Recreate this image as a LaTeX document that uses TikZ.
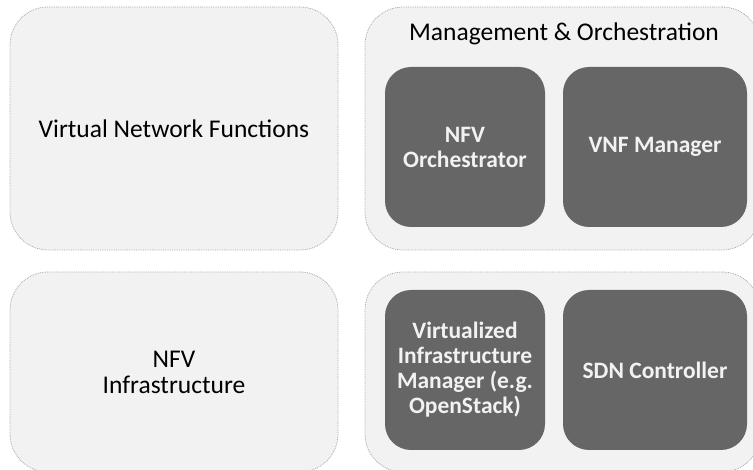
\documentclass[tikz,border=0pt]{standalone}
\usepackage{fontspec}
\setmainfont{Carlito}
\usepackage{xcolor}
\usepackage{tikz}
\definecolor{boxfill}{HTML}{F2F2F2}
\definecolor{boxline}{HTML}{A6A6A6}
\definecolor{darkfill}{HTML}{666666}
\tikzstyle{outer}=[rectangle,rounded corners=38pt,fill=boxfill,draw=boxline,densely dotted,line width=0.8pt,align=center,font=\fontsize{25.5}{26}\selectfont]
\tikzstyle{inner}=[rectangle,rounded corners=26pt,fill=darkfill,text=boxfill,align=center,font=\fontsize{23.5}{25}\selectfont\bfseries]

\begin{document}
\begin{tikzpicture}[x=1pt,y=-1pt]
        \useasboundingbox (0,0) rectangle (753,470);
        \node at (174,128.5) [outer,minimum width=328,minimum height=243] (vnf) {Virtual Network Functions};
        \node at (562.5,128.5) [outer,minimum width=395,minimum height=243] (mano) {};
        \node at (564,34) [font=\fontsize{25.5}{26}\selectfont] (manotitle) {Management \& Orchestration};
        \node at (465,147) [inner,minimum width=160,minimum height=160] (nfvo) {NFV\\Orchestrator};
        \node at (655,147) [inner,minimum width=184,minimum height=160] (vnfm) {VNF Manager};
        \node at (174,372) [outer,minimum width=328,minimum height=200] (nfvi) {NFV\\Infrastructure};
        \node at (562.5,372) [outer,minimum width=395,minimum height=200] (infra) {};
        \node at (465,370) [inner,minimum width=160,minimum height=160] (vim) {Virtualized\\Infrastructure\\Manager (e.g.\\OpenStack)};
        \node at (655,370) [inner,minimum width=184,minimum height=160] (sdn) {SDN Controller};
      \end{tikzpicture}
\end{document}
